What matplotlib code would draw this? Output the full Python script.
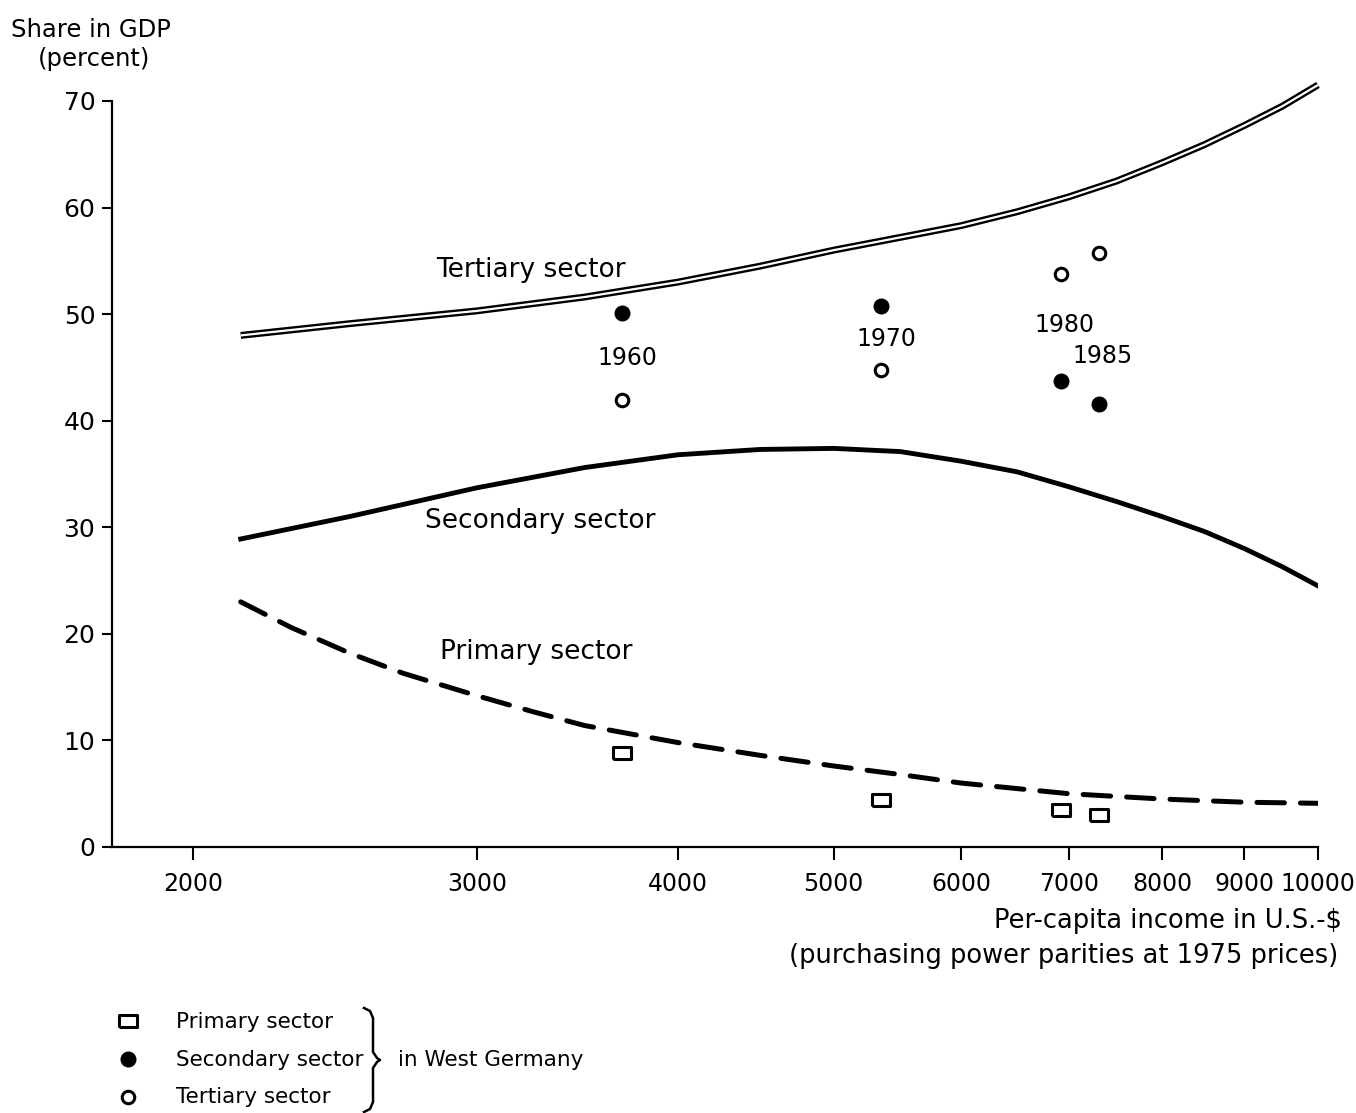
import numpy as np
import matplotlib.pyplot as plt
from matplotlib.ticker import FixedLocator, FixedFormatter, NullLocator

# Kurven, Pro-Kopf-Einkommen in US-$ und Anteil am BIP in %
inkommen_tert = [2140, 2500, 3000, 3500, 4000, 4500, 5000, 5500, 6000, 6500, 7000,
                 7500, 8000, 8500, 9000, 9500, 10000]
tertiaer = [48.0, 49.1, 50.3, 51.6, 53.0, 54.5, 56.0, 57.2, 58.3, 59.6, 61.0,
            62.5, 64.2, 65.9, 67.7, 69.5, 71.5]

inkommen_sek = [2140, 2500, 3000, 3500, 4000, 4500, 5000, 5500, 6000, 6500, 7000,
                7500, 8000, 8500, 9000, 9500, 10000]
sekundaer = [28.9, 31.0, 33.7, 35.6, 36.8, 37.3, 37.4, 37.1, 36.2, 35.2, 33.8,
             32.4, 31.0, 29.6, 28.0, 26.3, 24.5]

inkommen_prim = [2140, 2300, 2500, 2700, 3000, 3250, 3500, 4000, 4500, 5000, 5500,
                 6000, 7000, 8000, 9000, 10000]
primaer = [23.0, 20.6, 18.2, 16.3, 14.2, 12.7, 11.4, 9.8, 8.6, 7.6, 6.8,
           6.0, 5.0, 4.5, 4.2, 4.1]

# Westdeutschland
jahre = ['1960', '1970', '1980', '1985']
inkommen_brd = [3695, 5354, 6920, 7313]
brd_primaer = [8.8, 4.4, 3.5, 3.0]
brd_sekundaer = [50.1, 50.8, 43.7, 41.6]
brd_tertiaer = [41.9, 44.8, 53.8, 55.7]

x_ticks = [2000, 3000, 4000, 5000, 6000, 7000, 8000, 9000, 10000]
y_ticks = [0, 10, 20, 30, 40, 50, 60, 70]

plt.rcParams['font.family'] = ['DejaVu Sans']

fig = plt.figure(figsize=(13.56, 11.13), dpi=100)
ax = fig.add_axes([0.0826, 0.239, 0.8894, 0.6703])

# Tertiaer: doppelte Linie (schwarz mit weisser Mitte)
ax.plot(inkommen_tert, tertiaer, color='black', lw=5.0, solid_capstyle='butt',
        solid_joinstyle='round', zorder=3, clip_on=False)
ax.plot(inkommen_tert, tertiaer, color='white', lw=1.6, solid_capstyle='butt',
        solid_joinstyle='round', zorder=4, clip_on=False)

# Sekundaer: dicke Linie
ax.plot(inkommen_sek, sekundaer, color='black', lw=3.5, zorder=3,
        solid_joinstyle='round')

# Primaer: gestrichelt
lijn, = ax.plot(inkommen_prim, primaer, color='black', lw=3.6, zorder=3,
                dash_capstyle='round')
lijn.set_dashes((5.5, 3.2))

# Punkte
rechteck = [(-1.5, -1), (1.5, -1), (1.5, 1), (-1.5, 1), (-1.5, -1)]
ax.plot(inkommen_brd, brd_primaer, linestyle='none', marker=rechteck, ms=13,
        mfc='white', mec='black', mew=2.2, zorder=5)
ax.plot(inkommen_brd, brd_sekundaer, linestyle='none', marker='o', ms=10.5,
        mfc='black', mec='black', zorder=5)
ax.plot(inkommen_brd, brd_tertiaer, linestyle='none', marker='o', ms=9,
        mfc='white', mec='black', mew=2.2, zorder=5)

# Jahreszahlen
jaar_pos = [(3720, 45.9), (5390, 47.7), (6960, 49.0), (7350, 46.1)]
for jaar, (xj, yj) in zip(jahre, jaar_pos):
    ax.text(xj, yj, jaar, ha='center', va='center', fontsize=17)

# Kurvenbeschriftung
ax.text(3240, 54.1, 'Tertiary sector', ha='center', va='center', fontsize=19)
ax.text(3287, 30.6, 'Secondary sector', ha='center', va='center', fontsize=19)
ax.text(3265, 18.3, 'Primary sector', ha='center', va='center', fontsize=19)

# Achsen
ax.set_xscale('log')
ax.set_xlim(1780, 10000)
ax.set_ylim(0, 70)
ax.xaxis.set_major_locator(FixedLocator(x_ticks))
ax.xaxis.set_major_formatter(FixedFormatter([str(t) for t in x_ticks]))
ax.xaxis.set_minor_locator(NullLocator())
ax.set_yticks(y_ticks)
ax.tick_params(axis='x', direction='out', length=9, width=1.5, pad=9, labelsize=17)
ax.tick_params(axis='y', direction='out', length=7, width=1.5, pad=5, labelsize=18)
for s in ['top', 'right']:
    ax.spines[s].set_visible(False)
for s in ['left', 'bottom']:
    ax.spines[s].set_linewidth(1.6)

fig.text(91 / 1356, 1 - 30 / 1113, 'Share in GDP', ha='center', va='center', fontsize=17.5)
fig.text(94 / 1356, 1 - 59 / 1113, '(percent)', ha='center', va='center', fontsize=17.5)
fig.text(1342 / 1356, 1 - 921 / 1113, 'Per-capita income in U.S.-$', ha='right',
         va='center', fontsize=18.5)
fig.text(1338 / 1356, 1 - 956 / 1113, '(purchasing power parities at 1975 prices)',
         ha='right', va='center', fontsize=18.5)

# Legende in Pixelkoordinaten
leg = fig.add_axes([0, 0, 1, 1], zorder=-1)
leg.set_xlim(0, 1356)
leg.set_ylim(1113, 0)
leg.axis('off')
leg.plot([128], [1021], linestyle='none', marker=rechteck, ms=13, mfc='white',
         mec='black', mew=2.2)
leg.plot([128], [1059], linestyle='none', marker='o', ms=10.5, mfc='black', mec='black')
leg.plot([128], [1097], linestyle='none', marker='o', ms=9, mfc='white',
         mec='black', mew=2.2)
for yy, t in zip([1022, 1060, 1097], ['Primary sector', 'Secondary sector', 'Tertiary sector']):
    leg.text(176, yy, t, ha='left', va='center', fontsize=15.5)
klammer_x = [364, 370, 373, 373, 377, 380, 377, 373, 373, 370, 364]
klammer_y = [1008, 1011, 1018, 1052, 1058, 1060, 1062, 1068, 1102, 1109, 1112]
leg.plot(klammer_x, klammer_y, color='black', lw=1.8)
leg.text(398, 1060, 'in West Germany', ha='left', va='center', fontsize=15.5)

fig.savefig('out.png', dpi=100)
